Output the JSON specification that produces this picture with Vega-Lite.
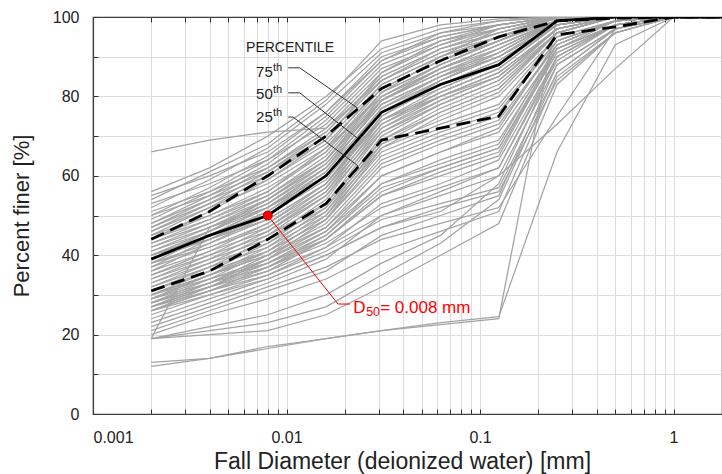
{
  "$schema": "https://vega.github.io/schema/vega-lite/v6.json",
  "width": 629,
  "height": 397,
  "autosize": "none",
  "padding": {"left": 93, "top": 17, "right": 0, "bottom": 60},
  "background": "white",
  "config": {"font": "Liberation Sans", "view": {"stroke": "#404040", "strokeWidth": 1.2}},
  "datasets": {
    "dia": [
      {"key": "a", "dm": 0.002}, {"key": "b", "dm": 0.004}, {"key": "c", "dm": 0.008}, {"key": "d", "dm": 0.016},
      {"key": "e", "dm": 0.031}, {"key": "f", "dm": 0.0625}, {"key": "g", "dm": 0.125}, {"key": "h", "dm": 0.25},
      {"key": "i", "dm": 0.5}, {"key": "j", "dm": 1}, {"key": "k", "dm": 2}
    ],
    "samples": [
      {"id": "T1", "a": 56, "b": 62, "c": 70, "d": 80, "e": 92, "f": 97, "g": 99, "h": 100, "i": 100, "j": 100, "k": 100},
      {"id": "T2", "a": 55, "b": 60, "c": 66, "d": 76, "e": 89, "f": 95, "g": 98, "h": 100, "i": 100, "j": 100, "k": 100},
      {"id": "T3", "a": 54, "b": 61, "c": 68, "d": 79, "e": 94, "f": 98, "g": 99.5, "h": 100, "i": 100, "j": 100, "k": 100},
      {"id": "T4", "a": 53, "b": 58, "c": 64, "d": 73, "e": 87, "f": 93, "g": 97, "h": 100, "i": 100, "j": 100, "k": 100},
      {"id": "T5", "a": 52, "b": 59, "c": 67, "d": 78, "e": 91, "f": 96, "g": 98, "h": 100, "i": 100, "j": 100, "k": 100},
      {"id": "T6", "a": 51, "b": 56, "c": 62, "d": 71, "e": 85, "f": 92, "g": 96, "h": 99.5, "i": 100, "j": 100, "k": 100},
      {"id": "T7", "a": 50, "b": 57, "c": 65, "d": 76, "e": 90, "f": 95, "g": 98, "h": 100, "i": 100, "j": 100, "k": 100},
      {"id": "T8", "a": 50, "b": 55, "c": 61, "d": 70, "e": 84, "f": 91, "g": 96, "h": 100, "i": 100, "j": 100, "k": 100},
      {"id": "T9", "a": 49, "b": 56, "c": 64, "d": 75, "e": 89, "f": 96, "g": 99, "h": 100, "i": 100, "j": 100, "k": 100},
      {"id": "T10", "a": 48, "b": 54, "c": 60, "d": 69, "e": 83, "f": 90, "g": 95, "h": 99, "i": 100, "j": 100, "k": 100},
      {"id": "T11", "a": 48, "b": 55, "c": 63, "d": 74, "e": 88, "f": 94, "g": 97, "h": 100, "i": 100, "j": 100, "k": 100},
      {"id": "T12", "a": 47, "b": 53, "c": 59, "d": 68, "e": 82, "f": 89, "g": 95, "h": 100, "i": 100, "j": 100, "k": 100},
      {"id": "T13", "a": 47, "b": 54, "c": 62, "d": 72, "e": 86, "f": 93, "g": 98, "h": 100, "i": 100, "j": 100, "k": 100},
      {"id": "T14", "a": 46, "b": 52, "c": 58, "d": 67, "e": 80, "f": 88, "g": 94, "h": 99, "i": 100, "j": 100, "k": 100},
      {"id": "T15", "a": 46, "b": 53, "c": 61, "d": 71, "e": 85, "f": 92, "g": 96, "h": 100, "i": 100, "j": 100, "k": 100},
      {"id": "T16", "a": 45, "b": 50, "c": 56, "d": 66, "e": 81, "f": 90, "g": 97, "h": 100, "i": 100, "j": 100, "k": 100},
      {"id": "T17", "a": 45, "b": 52, "c": 60, "d": 70, "e": 84, "f": 91, "g": 95, "h": 99, "i": 100, "j": 100, "k": 100},
      {"id": "T18", "a": 44, "b": 51, "c": 59, "d": 69, "e": 86, "f": 94, "g": 98, "h": 100, "i": 100, "j": 100, "k": 100},
      {"id": "T19", "a": 44, "b": 49, "c": 55, "d": 64, "e": 79, "f": 87, "g": 93, "h": 99, "i": 100, "j": 100, "k": 100},
      {"id": "T20", "a": 66, "b": 69, "c": 71, "d": 72, "e": 84, "f": 92, "g": 97, "h": 100, "i": 100, "j": 100, "k": 100},
      {"id": "M1", "a": 44, "b": 50, "c": 57, "d": 66, "e": 82, "f": 89, "g": 94, "h": 100, "i": 100, "j": 100, "k": 100},
      {"id": "M2", "a": 43, "b": 48, "c": 54, "d": 63, "e": 79, "f": 87, "g": 93, "h": 99, "i": 100, "j": 100, "k": 100},
      {"id": "M3", "a": 43, "b": 49, "c": 56, "d": 67, "e": 83, "f": 90, "g": 95, "h": 100, "i": 100, "j": 100, "k": 100},
      {"id": "M4", "a": 42, "b": 47, "c": 53, "d": 62, "e": 78, "f": 85, "g": 91, "h": 99, "i": 100, "j": 100, "k": 100},
      {"id": "M5", "a": 42, "b": 48, "c": 55, "d": 65, "e": 81, "f": 88, "g": 94, "h": 100, "i": 100, "j": 100, "k": 100},
      {"id": "M6", "a": 41, "b": 46, "c": 52, "d": 61, "e": 77, "f": 84, "g": 90, "h": 98, "i": 100, "j": 100, "k": 100},
      {"id": "M7", "a": 41, "b": 47, "c": 54, "d": 64, "e": 80, "f": 87, "g": 93, "h": 99, "i": 100, "j": 100, "k": 100},
      {"id": "M8", "a": 40, "b": 45, "c": 51, "d": 60, "e": 76, "f": 83, "g": 89, "h": 98, "i": 100, "j": 100, "k": 100},
      {"id": "M9", "a": 40, "b": 46, "c": 53, "d": 63, "e": 79, "f": 86, "g": 92, "h": 99, "i": 100, "j": 100, "k": 100},
      {"id": "M10", "a": 40, "b": 44, "c": 49, "d": 58, "e": 75, "f": 84, "g": 91, "h": 99, "i": 100, "j": 100, "k": 100},
      {"id": "M11", "a": 39, "b": 45, "c": 52, "d": 62, "e": 78, "f": 85, "g": 90, "h": 98, "i": 100, "j": 100, "k": 100},
      {"id": "M12", "a": 39, "b": 44, "c": 50, "d": 59, "e": 76, "f": 82, "g": 88, "h": 99, "i": 100, "j": 100, "k": 100},
      {"id": "M13", "a": 39, "b": 46, "c": 54, "d": 64, "e": 81, "f": 88, "g": 94, "h": 100, "i": 100, "j": 100, "k": 100},
      {"id": "M14", "a": 38, "b": 43, "c": 49, "d": 58, "e": 74, "f": 81, "g": 87, "h": 98, "i": 100, "j": 100, "k": 100},
      {"id": "M15", "a": 38, "b": 45, "c": 52, "d": 62, "e": 80, "f": 87, "g": 92, "h": 99, "i": 100, "j": 100, "k": 100},
      {"id": "M16", "a": 38, "b": 42, "c": 48, "d": 57, "e": 73, "f": 80, "g": 86, "h": 97, "i": 100, "j": 100, "k": 100},
      {"id": "M17", "a": 37, "b": 44, "c": 51, "d": 61, "e": 79, "f": 86, "g": 91, "h": 99, "i": 100, "j": 100, "k": 100},
      {"id": "M18", "a": 37, "b": 42, "c": 47, "d": 56, "e": 72, "f": 79, "g": 85, "h": 97, "i": 100, "j": 100, "k": 100},
      {"id": "M19", "a": 36, "b": 43, "c": 50, "d": 60, "e": 77, "f": 85, "g": 92, "h": 99, "i": 100, "j": 100, "k": 100},
      {"id": "M20", "a": 36, "b": 41, "c": 46, "d": 55, "e": 71, "f": 78, "g": 84, "h": 96, "i": 100, "j": 100, "k": 100},
      {"id": "L1", "a": 35, "b": 41, "c": 48, "d": 58, "e": 76, "f": 84, "g": 90, "h": 99, "i": 100, "j": 100, "k": 100},
      {"id": "L2", "a": 35, "b": 40, "c": 45, "d": 53, "e": 69, "f": 76, "g": 82, "h": 96, "i": 100, "j": 100, "k": 100},
      {"id": "L3", "a": 34, "b": 40, "c": 47, "d": 57, "e": 75, "f": 83, "g": 89, "h": 98, "i": 100, "j": 100, "k": 100},
      {"id": "L4", "a": 34, "b": 39, "c": 44, "d": 52, "e": 68, "f": 74, "g": 80, "h": 95, "i": 99, "j": 100, "k": 100},
      {"id": "L5", "a": 33, "b": 39, "c": 46, "d": 56, "e": 74, "f": 82, "g": 88, "h": 98, "i": 100, "j": 100, "k": 100},
      {"id": "L6", "a": 33, "b": 38, "c": 43, "d": 51, "e": 67, "f": 73, "g": 78, "h": 95, "i": 99, "j": 100, "k": 100},
      {"id": "L7", "a": 32, "b": 38, "c": 45, "d": 55, "e": 73, "f": 81, "g": 87, "h": 98, "i": 100, "j": 100, "k": 100},
      {"id": "L8", "a": 32, "b": 37, "c": 42, "d": 50, "e": 66, "f": 72, "g": 77, "h": 94, "i": 99, "j": 100, "k": 100},
      {"id": "L9", "a": 31, "b": 37, "c": 44, "d": 54, "e": 72, "f": 80, "g": 86, "h": 97, "i": 100, "j": 100, "k": 100},
      {"id": "L10", "a": 31, "b": 36, "c": 41, "d": 49, "e": 65, "f": 71, "g": 76, "h": 94, "i": 99, "j": 100, "k": 100},
      {"id": "L11", "a": 30, "b": 36, "c": 43, "d": 53, "e": 71, "f": 79, "g": 85, "h": 97, "i": 100, "j": 100, "k": 100},
      {"id": "L12", "a": 30, "b": 35, "c": 40, "d": 48, "e": 63, "f": 69, "g": 74, "h": 93, "i": 99, "j": 100, "k": 100},
      {"id": "L13", "a": 29, "b": 35, "c": 42, "d": 52, "e": 70, "f": 78, "g": 84, "h": 97, "i": 100, "j": 100, "k": 100},
      {"id": "L14", "a": 29, "b": 34, "c": 39, "d": 47, "e": 62, "f": 68, "g": 73, "h": 93, "i": 99, "j": 100, "k": 100},
      {"id": "L15", "a": 28, "b": 34, "c": 41, "d": 51, "e": 69, "f": 77, "g": 83, "h": 96, "i": 100, "j": 100, "k": 100},
      {"id": "L16", "a": 28, "b": 33, "c": 38, "d": 46, "e": 60, "f": 66, "g": 71, "h": 92, "i": 98, "j": 100, "k": 100},
      {"id": "L17", "a": 27, "b": 33, "c": 40, "d": 50, "e": 68, "f": 76, "g": 82, "h": 96, "i": 100, "j": 100, "k": 100},
      {"id": "L18", "a": 27, "b": 32, "c": 37, "d": 45, "e": 58, "f": 64, "g": 69, "h": 92, "i": 98, "j": 100, "k": 100},
      {"id": "L19", "a": 26, "b": 32, "c": 39, "d": 49, "e": 67, "f": 75, "g": 81, "h": 96, "i": 100, "j": 100, "k": 100},
      {"id": "L20", "a": 26, "b": 31, "c": 36, "d": 44, "e": 56, "f": 62, "g": 67, "h": 91, "i": 98, "j": 100, "k": 100},
      {"id": "B1", "a": 30, "b": 35, "c": 40, "d": 47, "e": 60, "f": 66, "g": 72, "h": 94, "i": 99, "j": 100, "k": 100},
      {"id": "B2", "a": 30, "b": 34, "c": 38, "d": 44, "e": 55, "f": 60, "g": 65, "h": 92, "i": 98, "j": 100, "k": 100},
      {"id": "B3", "a": 29, "b": 35, "c": 41, "d": 49, "e": 64, "f": 70, "g": 75, "h": 96, "i": 100, "j": 100, "k": 100},
      {"id": "B4", "a": 29, "b": 33, "c": 37, "d": 43, "e": 52, "f": 57, "g": 62, "h": 90, "i": 98, "j": 100, "k": 100},
      {"id": "B5", "a": 28, "b": 33, "c": 39, "d": 46, "e": 58, "f": 63, "g": 68, "h": 93, "i": 99, "j": 100, "k": 100},
      {"id": "B6", "a": 28, "b": 32, "c": 36, "d": 42, "e": 50, "f": 55, "g": 60, "h": 88, "i": 97, "j": 100, "k": 100},
      {"id": "B7", "a": 27, "b": 32, "c": 38, "d": 45, "e": 57, "f": 62, "g": 67, "h": 92, "i": 99, "j": 100, "k": 100},
      {"id": "B8", "a": 27, "b": 31, "c": 35, "d": 41, "e": 49, "f": 53, "g": 57, "h": 86, "i": 97, "j": 100, "k": 100},
      {"id": "B9", "a": 26, "b": 31, "c": 37, "d": 44, "e": 55, "f": 61, "g": 66, "h": 91, "i": 98, "j": 100, "k": 100},
      {"id": "B10", "a": 26, "b": 30, "c": 34, "d": 40, "e": 47, "f": 52, "g": 56, "h": 84, "i": 96, "j": 100, "k": 100},
      {"id": "B11", "a": 25, "b": 30, "c": 35, "d": 42, "e": 53, "f": 58, "g": 64, "h": 90, "i": 98, "j": 100, "k": 100},
      {"id": "B12", "a": 24, "b": 29, "c": 34, "d": 40, "e": 47, "f": 51, "g": 60, "h": 73, "i": 87, "j": 100, "k": 100},
      {"id": "B13", "a": 23, "b": 28, "c": 33, "d": 39, "e": 50, "f": 56, "g": 62, "h": 89, "i": 98, "j": 100, "k": 100},
      {"id": "B14", "a": 22, "b": 27, "c": 32, "d": 37, "e": 44, "f": 48, "g": 52, "h": 75, "i": 97, "j": 100, "k": 100},
      {"id": "B15", "a": 21, "b": 26, "c": 31, "d": 36, "e": 45, "f": 50, "g": 55, "h": 88, "i": 97, "j": 100, "k": 100},
      {"id": "B16", "a": 20, "b": 25, "c": 29, "d": 34, "e": 41, "f": 46, "g": 51, "h": 85, "i": 96, "j": 100, "k": 100},
      {"id": "B17", "a": 19, "b": 20, "c": 21, "d": 25, "e": 32, "f": 40, "g": 48, "h": 83, "i": 96, "j": 100, "k": 100},
      {"id": "B18", "a": 19, "b": 47, "c": 52, "d": 60, "e": 74, "f": 80, "g": 85, "h": 97, "i": 100, "j": 100, "k": 100},
      {"id": "B19", "a": 19, "b": 21, "c": 23, "d": 27, "e": 35, "f": 43, "g": 54, "h": 86, "i": 97, "j": 100, "k": 100},
      {"id": "B20", "a": 19, "b": 22, "c": 25, "d": 30, "e": 38, "f": 45, "g": 58, "h": 90, "i": 98, "j": 100, "k": 100},
      {"id": "BA", "a": 12, "b": 14, "c": 17, "d": 19, "e": 21, "f": 22.5, "g": 24, "h": 100, "i": 100, "j": 100, "k": 100},
      {"id": "BB", "a": 13, "b": 14, "c": 16.5, "d": 19, "e": 21, "f": 23, "g": 24.5, "h": 66, "i": 93, "j": 100, "k": 100}
    ],
    "pct": [
      {"id": "p75", "a": 44, "b": 51, "c": 60, "d": 70, "e": 82, "f": 89, "g": 95, "h": 99, "i": 99.7, "j": 100, "k": 100},
      {"id": "p50", "a": 39, "b": 45, "c": 50, "d": 60, "e": 76, "f": 83, "g": 88, "h": 99, "i": 100, "j": 100, "k": 100},
      {"id": "p25", "a": 31, "b": 36, "c": 44, "d": 53, "e": 69, "f": 72, "g": 75, "h": 95.5, "i": 97.5, "j": 100, "k": 100}
    ],
    "leaders": [
      {"g": "75", "x": 0.0102, "y": 87.2}, {"g": "75", "x": 0.0117, "y": 87.2}, {"g": "75", "x": 0.0234, "y": 77.0},
      {"g": "50", "x": 0.0102, "y": 80.9}, {"g": "50", "x": 0.0117, "y": 80.9}, {"g": "50", "x": 0.0232, "y": 69.5},
      {"g": "25", "x": 0.0102, "y": 74.8}, {"g": "25", "x": 0.0108, "y": 74.8}, {"g": "25", "x": 0.0234, "y": 62.5}
    ],
    "redline": [
      {"x": 0.008, "y": 50}, {"x": 0.01845, "y": 27.7}, {"x": 0.0213, "y": 27.7}
    ]
  },
  "resolve": {"axis": {"x": "independent", "y": "independent"}},
  "layer": [
    {
      "data": {"name": "samples"},
      "transform": [
        {"fold": ["a", "b", "c", "d", "e", "f", "g", "h", "i", "j", "k"], "as": ["key", "p"]},
        {"lookup": "key", "from": {"data": {"name": "dia"}, "key": "key", "fields": ["dm"]}}
      ],
      "mark": {"type": "line", "color": "#a3a3a3", "strokeWidth": 1.25, "clip": true},
      "encoding": {
        "x": {
          "field": "dm", "type": "quantitative",
          "scale": {"type": "log", "domain": [0.001, 1.78], "nice": false},
          "axis": {
            "orient": "bottom",
            "title": "Fall Diameter (deionized water) [mm]",
            "values": [0.001, 0.002, 0.003, 0.004, 0.005, 0.006, 0.007, 0.008, 0.009, 0.01, 0.02, 0.03, 0.04, 0.05, 0.06, 0.07, 0.08, 0.09, 0.1, 0.2, 0.3, 0.4, 0.5, 0.6, 0.7, 0.8, 0.9, 1],
            "labelExpr": "abs(log(datum.value)/LN10 - round(log(datum.value)/LN10)) < 0.01 ? format(datum.value, '~g') : ''",
            "tickSize": -5, "tickColor": "#333", "tickWidth": 1,
            "domainColor": "#404040", "domainWidth": 1.2,
            "grid": true, "gridColor": "#dcdcdc", "gridWidth": 1,
            "labelFontSize": 16, "labelColor": "#222", "labelPadding": 20, "labelFlush": true, "labelOverlap": false,
            "titleFontSize": 23, "titleFontWeight": "normal", "titleColor": "#222", "titlePadding": 5, "titleX": 309
          }
        },
        "y": {
          "field": "p", "type": "quantitative",
          "scale": {"domain": [0, 100], "nice": false},
          "axis": {
            "title": "Percent finer [%]",
            "values": [0, 10, 20, 30, 40, 50, 60, 70, 80, 90, 100],
            "labelExpr": "datum.value % 20 == 0 ? datum.label : ''",
            "tickSize": -5, "tickColor": "#333",
            "domainColor": "#404040", "domainWidth": 1.2,
            "grid": true, "gridColor": "#dcdcdc", "gridWidth": 1,
            "labelFontSize": 16, "labelColor": "#222", "labelPadding": 19, "labelFlush": false,
            "titleFontSize": 22, "titleFontWeight": "normal", "titleColor": "#222", "titlePadding": 19
          }
        },
        "detail": {"field": "id"}
      }
    },
    {
      "data": {"name": "pct"},
      "transform": [
        {"filter": "datum.id != 'p50'"},
        {"fold": ["a", "b", "c", "d", "e", "f", "g", "h", "i", "j", "k"], "as": ["key", "p"]},
        {"lookup": "key", "from": {"data": {"name": "dia"}, "key": "key", "fields": ["dm"]}}
      ],
      "mark": {"type": "line", "color": "#000000", "strokeWidth": 2.8, "strokeDash": [14, 7], "clip": true},
      "encoding": {
        "x": {
          "field": "dm", "type": "quantitative",
          "axis": {
            "orient": "top", "title": null, "labels": false,
            "values": [0.001, 0.002, 0.003, 0.004, 0.005, 0.006, 0.007, 0.008, 0.009, 0.01, 0.02, 0.03, 0.04, 0.05, 0.06, 0.07, 0.08, 0.09, 0.1, 0.2, 0.3, 0.4, 0.5, 0.6, 0.7, 0.8, 0.9, 1],
            "tickSize": -5, "tickColor": "#333", "domainColor": "#404040", "domainWidth": 1.2, "grid": false
          }
        },
        "y": {"field": "p", "type": "quantitative", "axis": null},
        "detail": {"field": "id"}
      }
    },
    {
      "data": {"name": "pct"},
      "transform": [
        {"filter": "datum.id == 'p50'"},
        {"fold": ["a", "b", "c", "d", "e", "f", "g", "h", "i", "j", "k"], "as": ["key", "p"]},
        {"lookup": "key", "from": {"data": {"name": "dia"}, "key": "key", "fields": ["dm"]}}
      ],
      "mark": {"type": "line", "color": "#000000", "strokeWidth": 2.8, "clip": true},
      "encoding": {
        "x": {"field": "dm", "type": "quantitative", "axis": null},
        "y": {"field": "p", "type": "quantitative", "axis": null}
      }
    },
    {
      "data": {"name": "leaders"},
      "mark": {"type": "line", "color": "#333333", "strokeWidth": 1},
      "encoding": {
        "x": {"field": "x", "type": "quantitative", "axis": null},
        "y": {"field": "y", "type": "quantitative", "axis": null},
        "detail": {"field": "g"}
      }
    },
    {
      "data": {"name": "redline"},
      "mark": {"type": "line", "color": "#ff0000", "strokeWidth": 1},
      "encoding": {
        "x": {"field": "x", "type": "quantitative", "axis": null},
        "y": {"field": "y", "type": "quantitative", "axis": null}
      }
    },
    {
      "data": {"values": [{}]},
      "mark": {"type": "point", "filled": true, "fill": "#ff0000", "stroke": "#b00000", "strokeWidth": 1, "size": 80, "opacity": 1},
      "encoding": {
        "x": {"datum": 0.008, "type": "quantitative", "axis": null},
        "y": {"datum": 50, "type": "quantitative", "axis": null}
      }
    },
    {
      "data": {"values": [{}]},
      "layer": [
        {"mark": {"type": "text", "text": "PERCENTILE", "align": "left", "baseline": "alphabetic", "fontSize": 14, "color": "#222222"},
         "encoding": {"x": {"datum": 0.00618, "type": "quantitative", "axis": null}, "y": {"datum": 91.2, "type": "quantitative", "axis": null}}},
        {"mark": {"type": "text", "text": "75", "align": "left", "baseline": "alphabetic", "fontSize": 15, "color": "#222222"},
         "encoding": {"x": {"datum": 0.00696, "type": "quantitative", "axis": null}, "y": {"datum": 84.9, "type": "quantitative", "axis": null}}},
        {"mark": {"type": "text", "text": "th", "align": "left", "baseline": "alphabetic", "fontSize": 11, "dx": 17, "dy": -6, "color": "#222222"},
         "encoding": {"x": {"datum": 0.00696, "type": "quantitative", "axis": null}, "y": {"datum": 84.9, "type": "quantitative", "axis": null}}},
        {"mark": {"type": "text", "text": "50", "align": "left", "baseline": "alphabetic", "fontSize": 15, "color": "#222222"},
         "encoding": {"x": {"datum": 0.00696, "type": "quantitative", "axis": null}, "y": {"datum": 79.3, "type": "quantitative", "axis": null}}},
        {"mark": {"type": "text", "text": "th", "align": "left", "baseline": "alphabetic", "fontSize": 11, "dx": 17, "dy": -6, "color": "#222222"},
         "encoding": {"x": {"datum": 0.00696, "type": "quantitative", "axis": null}, "y": {"datum": 79.3, "type": "quantitative", "axis": null}}},
        {"mark": {"type": "text", "text": "25", "align": "left", "baseline": "alphabetic", "fontSize": 15, "color": "#222222"},
         "encoding": {"x": {"datum": 0.00696, "type": "quantitative", "axis": null}, "y": {"datum": 73.55, "type": "quantitative", "axis": null}}},
        {"mark": {"type": "text", "text": "th", "align": "left", "baseline": "alphabetic", "fontSize": 11, "dx": 17, "dy": -6, "color": "#222222"},
         "encoding": {"x": {"datum": 0.00696, "type": "quantitative", "axis": null}, "y": {"datum": 73.55, "type": "quantitative", "axis": null}}},
        {"mark": {"type": "text", "text": "D", "align": "left", "baseline": "alphabetic", "fontSize": 17, "color": "#ff0000"},
         "encoding": {"x": {"datum": 0.0221, "type": "quantitative", "axis": null}, "y": {"datum": 25.4, "type": "quantitative", "axis": null}}},
        {"mark": {"type": "text", "text": "50", "align": "left", "baseline": "alphabetic", "fontSize": 12.5, "dx": 13, "dy": 3, "color": "#ff0000"},
         "encoding": {"x": {"datum": 0.0221, "type": "quantitative", "axis": null}, "y": {"datum": 25.4, "type": "quantitative", "axis": null}}},
        {"mark": {"type": "text", "text": "= 0.008 mm", "align": "left", "baseline": "alphabetic", "fontSize": 17, "dx": 27, "color": "#ff0000"},
         "encoding": {"x": {"datum": 0.0221, "type": "quantitative", "axis": null}, "y": {"datum": 25.4, "type": "quantitative", "axis": null}}}
      ]
    }
  ]
}
